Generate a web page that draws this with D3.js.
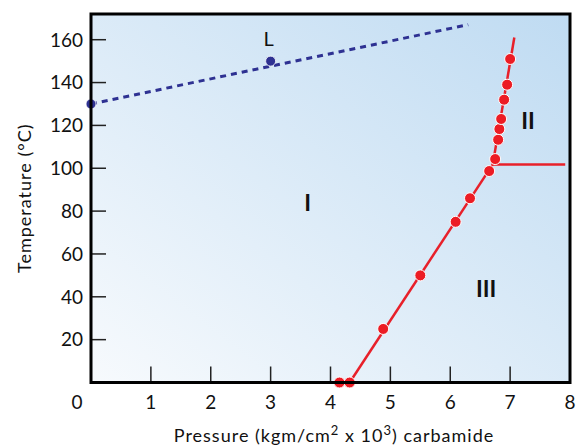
<!DOCTYPE html>
<html>
<head>
<meta charset="utf-8">
<script src="https://cdn.jsdelivr.net/npm/d3@7"></script>
<style>
  html, body { margin: 0; padding: 0; background: #fff; }
  text { font-family: "Lato", "DejaVu Sans", sans-serif; fill: #111; }
</style>
</head>
<body>
<div id="chart"></div>
<script>
// liquid boundary (L), dashed
const liquidLine = [[0, 130], [6.3, 167]];
const liquidDots = [[0, 130], [3, 150]];

// solid phase boundaries
const boundaryI_III = [[4.32, 0], [6.71, 101.8]];
const boundaryI_II = [[6.71, 101.8], [7.07, 161]];
const boundaryII_III = [[6.71, 101.8], [7.92, 101.8]];

// measured points
const redDots = [
  [4.15, 0], [4.32, 0], [4.88, 25], [5.5, 50], [6.09, 75], [6.33, 86],
  [6.65, 98.7], [6.75, 104.3], [6.8, 113.3], [6.82, 118.3], [6.85, 123],
  [6.9, 132], [6.95, 139], [7.0, 151]
];

const regionLabels = [
  { text: "I", x: 3.62, y: 84 },
  { text: "II", x: 7.3, y: 122 },
  { text: "III", x: 6.6, y: 44 }
];

const xTicks = [1, 2, 3, 4, 5, 6, 7];
const xLabels = [0, 1, 2, 3, 4, 5, 6, 7, 8];
const yTicks = [20, 40, 60, 80, 100, 120, 140, 160];

const width = 579;
const height = 448;
const margin = { top: 14, right: 9, bottom: 66, left: 91 };

const svg = d3
  .select("#chart")
  .append("svg")
  .attr("width", width)
  .attr("height", height);

const x = d3.scaleLinear().domain([0, 8]).range([margin.left, width - margin.right]);
const y = d3.scaleLinear().domain([0, 172]).range([height - margin.bottom + 0.5, margin.top]);

const defs = svg.append("defs");
const grad = defs
  .append("linearGradient")
  .attr("id", "bg")
  .attr("x1", "0%").attr("y1", "100%")
  .attr("x2", "100%").attr("y2", "0%");
grad.append("stop").attr("offset", "0%").attr("stop-color", "#f7fafd");
grad.append("stop").attr("offset", "100%").attr("stop-color", "#bfdbf2");

const plotW = x(8) - x(0);
const plotH = y(0) - margin.top;

svg
  .append("rect")
  .attr("x", x(0))
  .attr("y", margin.top)
  .attr("width", plotW)
  .attr("height", plotH)
  .attr("fill", "url(#bg)");

// ticks
svg
  .append("g")
  .selectAll("line")
  .data(yTicks)
  .join("line")
  .attr("x1", x(0))
  .attr("x2", x(0) + 15)
  .attr("y1", (d) => y(d))
  .attr("y2", (d) => y(d))
  .attr("stroke", "#222")
  .attr("stroke-width", 1.5);

svg
  .append("g")
  .selectAll("line")
  .data(xTicks)
  .join("line")
  .attr("x1", (d) => x(d))
  .attr("x2", (d) => x(d))
  .attr("y1", y(0))
  .attr("y2", y(0) - 16)
  .attr("stroke", "#222")
  .attr("stroke-width", 1.5);

// tick labels
svg
  .append("g")
  .selectAll("text")
  .data(yTicks)
  .join("text")
  .attr("x", x(0) - 8)
  .attr("y", (d) => y(d))
  .attr("dy", "0.36em")
  .attr("text-anchor", "end")
  .attr("font-size", 19)
  .text((d) => d);

svg
  .append("g")
  .selectAll("text")
  .data(xLabels)
  .join("text")
  .attr("x", (d) => (d === 0 ? x(0) - 14 : x(d)))
  .attr("y", y(0) + 20)
  .attr("dy", "0.36em")
  .attr("text-anchor", "middle")
  .attr("font-size", 19)
  .text((d) => d);

// axis titles
const xt = svg
  .append("text")
  .attr("x", 334)
  .attr("y", 442)
  .attr("text-anchor", "middle")
  .attr("font-size", 18)
  .attr("letter-spacing", 1);
xt.append("tspan").text("Pressure (kgm/cm");
xt.append("tspan").attr("dy", -7).attr("font-size", 13).text("2");
xt.append("tspan").attr("dy", 7).text(" x 10");
xt.append("tspan").attr("dy", -7).attr("font-size", 13).text("3");
xt.append("tspan").attr("dy", 7).text(") carbamide");

svg
  .append("text")
  .attr("transform", `translate(31,${y(86)}) rotate(-90)`)
  .attr("text-anchor", "middle")
  .attr("font-size", 18)
  .attr("letter-spacing", 1)
  .text("Temperature (°C)");

// lines
const line = d3.line().x((d) => x(d[0])).y((d) => y(d[1]));

svg
  .append("path")
  .attr("d", line(liquidLine))
  .attr("fill", "none")
  .attr("stroke", "#2e3192")
  .attr("stroke-width", 3)
  .attr("stroke-dasharray", "6,5");

[boundaryI_III, boundaryI_II, boundaryII_III].forEach((seg) => {
  svg
    .append("path")
    .attr("d", line(seg))
    .attr("fill", "none")
    .attr("stroke", "#e8202a")
    .attr("stroke-width", 2.5);
});

svg
  .append("g")
  .selectAll("circle")
  .data(liquidDots)
  .join("circle")
  .attr("cx", (d) => x(d[0]))
  .attr("cy", (d) => y(d[1]))
  .attr("r", 5)
  .attr("fill", "#2e3192")
  .attr("stroke", "#fff")
  .attr("stroke-width", 0.8);

svg
  .append("g")
  .selectAll("circle")
  .data(redDots)
  .join("circle")
  .attr("cx", (d) => x(d[0]))
  .attr("cy", (d) => y(d[1]))
  .attr("r", 5.5)
  .attr("fill", "#ec1c24")
  .attr("stroke", "#fff")
  .attr("stroke-width", 1);

svg
  .append("text")
  .attr("x", x(3) - 2)
  .attr("y", 46)
  .attr("text-anchor", "middle")
  .attr("font-size", 20)
  .text("L");

svg
  .append("g")
  .selectAll("text")
  .data(regionLabels)
  .join("text")
  .attr("x", (d) => x(d.x))
  .attr("y", (d) => y(d.y))
  .attr("dy", "0.36em")
  .attr("text-anchor", "middle")
  .attr("font-size", 23)
  .attr("font-weight", "bold")
  .text((d) => d.text);

// frame
svg
  .append("rect")
  .attr("x", x(0))
  .attr("y", margin.top)
  .attr("width", plotW)
  .attr("height", plotH)
  .attr("fill", "none")
  .attr("stroke", "#000")
  .attr("stroke-width", 3);
</script>
</body>
</html>
